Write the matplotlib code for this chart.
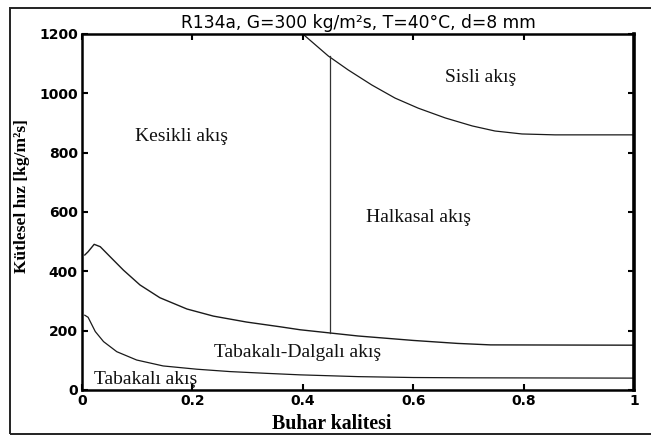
import matplotlib
matplotlib.use("Agg")
import matplotlib.pyplot as plt
from matplotlib.patches import Rectangle

# boundary curves
mist_x = [0.400, 0.446, 0.482, 0.525, 0.567, 0.609, 0.658, 0.707, 0.748, 0.797, 0.857, 1.0]
mist_y = [1200, 1126, 1079, 1028, 984, 950, 917, 890, 873, 863, 860, 860]

wavy_x = [0.005, 0.011, 0.022, 0.033, 0.051, 0.075, 0.105, 0.141, 0.190, 0.238,
          0.298, 0.359, 0.395, 0.45, 0.5, 0.6, 0.68, 0.74, 1.0]
wavy_y = [455, 466, 491, 483, 449, 404, 354, 311, 273, 249,
          229, 213, 203, 192, 182, 167, 157, 152, 151]

strat_x = [0.005, 0.011, 0.024, 0.039, 0.063, 0.099, 0.147, 0.208, 0.268, 0.335,
           0.395, 0.5, 0.6, 0.7, 1.0]
strat_y = [252, 245, 197, 163, 129, 101, 81, 70, 62, 56,
           51, 45, 42, 41, 40]

annular_x = [0.45, 0.45]
annular_y = [192, 1126]

regions = ["Sisli akış", "Kesikli akış", "Halkasal akış", "Tabakalı-Dalgalı akış", "Tabakalı akış"]
region_x = [0.722, 0.18, 0.61, 0.39, 0.116]
region_y = [1055, 853, 580, 125, 34]

fig = plt.figure(figsize=(6.51, 4.37), dpi=100)
ax = fig.add_axes([0.126, 0.1076, 0.848, 0.8146])

lc = "#1a1a1a"
ax.plot(mist_x, mist_y, color=lc, lw=0.9)
ax.plot(wavy_x, wavy_y, color=lc, lw=1.0)
ax.plot(strat_x, strat_y, color=lc, lw=0.9)
ax.plot(annular_x, annular_y, color="#333333", lw=0.9)

for name, x, y in zip(regions, region_x, region_y):
    ax.text(x, y, name, ha="center", va="center", fontsize=14,
            family="Liberation Serif", color="#111111")

ax.set_xlim(0, 1)
ax.set_ylim(0, 1200)
ax.set_xticks([0, 0.2, 0.4, 0.6, 0.8, 1])
ax.set_xticklabels(["0", "0.2", "0.4", "0.6", "0.8", "1"])
ax.set_yticks([0, 200, 400, 600, 800, 1000, 1200])
ax.tick_params(direction="in", top=True, right=True, length=4, width=1.5,
               labelsize=10, pad=3)
for lab in ax.get_xticklabels() + ax.get_yticklabels():
    lab.set_fontweight("bold")
    lab.set_family("DejaVu Sans")
for s in ax.spines.values():
    s.set_linewidth(1.8)
ax.spines["right"].set_linewidth(2.6)

ax.set_title("R134a, G=300 kg/m²s, T=40°C, d=8 mm", fontsize=12.3,
             family="DejaVu Sans", pad=4)
ax.set_xlabel("Buhar kalitesi", fontsize=14.3, fontweight="bold",
              family="Liberation Serif")
ax.xaxis.set_label_coords(0.453, -0.067)
ax.set_ylabel("Kütlesel hız [kg/m²s]", fontsize=12.5, fontweight="bold",
              family="Liberation Serif")
ax.yaxis.set_label_coords(-0.094, 0.545)

# frame around the whole picture
fig.patches.append(Rectangle((10 / 651, 3 / 437), 1.0, 426 / 437,
                             transform=fig.transFigure, fill=False,
                             edgecolor="#222222", lw=1.4))

fig.savefig("out.png", dpi=100)
